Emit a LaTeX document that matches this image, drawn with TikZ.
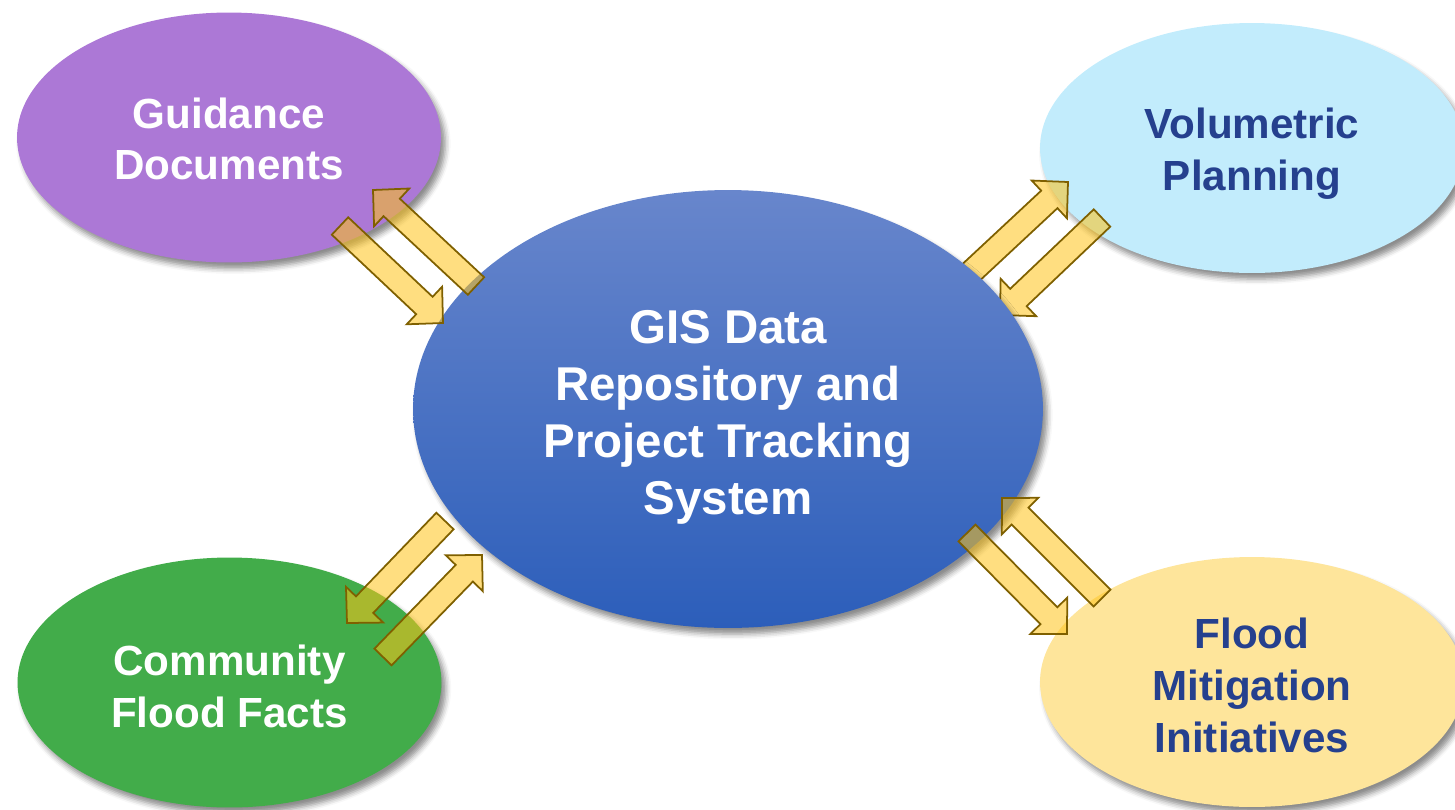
\documentclass[tikz,border=0pt]{standalone}
\usepackage{fontspec}
\setmainfont{Liberation Sans}
\usetikzlibrary{calc, shapes.geometric, shadows.blur}

\definecolor{hubtop}{RGB}{104,134,204}
\definecolor{hubbot}{RGB}{44,94,186}
\definecolor{guidefill}{RGB}{172,120,214}
\definecolor{volfill}{RGB}{194,236,252}
\definecolor{factsfill}{RGB}{66,172,74}
\definecolor{mitigfill}{RGB}{254,229,155}
\definecolor{darktext}{RGB}{37,64,142}
\definecolor{arrowfill}{RGB}{255,195,24}
\definecolor{arrowline}{RGB}{127,96,0}

\def\shaftw{6.8pt}
\def\headw{14.7pt}
\def\headl{14.4pt}
% invisible strut: a taller first line sits the text block lower in its ellipse
\newcommand{\droptext}[1]{\rule{0pt}{#1}}

\tikzstyle{softshadow} = [blur shadow={shadow xshift=2.5pt, shadow yshift=-3.5pt, shadow blur radius=3pt, shadow opacity=45}]
\tikzstyle{bubble} = [ellipse, softshadow, minimum width=8.48cm, minimum height=5cm, inner sep=0pt, align=center, font=\fontsize{24}{29.5}\selectfont\bfseries]
\tikzstyle{hub} = [ellipse, softshadow, minimum width=12.6cm, minimum height=8.76cm, inner sep=0pt, align=center, top color=hubtop, bottom color=hubbot, text=white, font=\fontsize{27}{32.5}\selectfont\bfseries]
\tikzstyle{flow} = [draw=arrowline, line width=1pt, fill=arrowfill, fill opacity=0.55, line join=miter,
  to path={let \p1=(\tikztostart), \p2=(\tikztotarget), \n1={atan2(\y2-\y1,\x2-\x1)}, \n2={veclen(\x2-\x1,\y2-\y1)-\headl} in
    ($(\p1)+(\n1+90:\shaftw)$) -- ($(\p1)+(\n1:\n2)+(\n1+90:\shaftw)$) -- ($(\p1)+(\n1:\n2)+(\n1+90:\headw)$)
    -- (\p2) -- ($(\p1)+(\n1:\n2)+(\n1-90:\headw)$) -- ($(\p1)+(\n1:\n2)+(\n1-90:\shaftw)$)
    -- ($(\p1)+(\n1-90:\shaftw)$) -- cycle}]

\begin{document}
\begin{tikzpicture}[x=0.02cm, y=-0.02cm]

  \useasboundingbox (0,0) rectangle (1455,809);

  \node[bubble, fill=guidefill, text=white] (guide) at (229,137.5) {\droptext{19pt}Guidance\\Documents};
  \node[bubble, fill=volfill, text=darktext] (volume) at (1252,148) {\droptext{24.3pt}Volumetric\\Planning};
  \node[bubble, fill=factsfill, text=white] (facts) at (229.5,682.5) {\droptext{21.8pt}Community\\Flood Facts};
  \node[bubble, fill=mitigfill, text=darktext] (mitig) at (1252,682) {\droptext{21.5pt}Flood\\Mitigation\\Initiatives};

  \coordinate (guide-in-s) at (340,226);   \coordinate (guide-in-e) at (443,323);
  \coordinate (guide-out-s) at (476,286);  \coordinate (guide-out-e) at (373,190);
  \coordinate (vol-out-s) at (965,278);    \coordinate (vol-out-e) at (1068,182);
  \coordinate (vol-in-s) at (1102,218);    \coordinate (vol-in-e) at (1000,315);
  \coordinate (facts-out-s) at (445,521);  \coordinate (facts-out-e) at (347,623);
  \coordinate (facts-in-s) at (383,657);   \coordinate (facts-in-e) at (482,555);
  \coordinate (mitig-in-s) at (1102,598);  \coordinate (mitig-in-e) at (1002,498);
  \coordinate (mitig-out-s) at (967,533);  \coordinate (mitig-out-e) at (1067,634);

  \draw[flow] (vol-out-s) to (vol-out-e);
  \draw[flow] (vol-in-s) to (vol-in-e);

  \node[hub] (repo) at (728,409) {\droptext{28pt}GIS Data\\Repository and\\Project Tracking\\System};

  \draw[flow] (guide-in-s) to (guide-in-e);
  \draw[flow] (guide-out-s) to (guide-out-e);
  \draw[flow] (facts-out-s) to (facts-out-e);
  \draw[flow] (facts-in-s) to (facts-in-e);
  \draw[flow] (mitig-in-s) to (mitig-in-e);
  \draw[flow] (mitig-out-s) to (mitig-out-e);

\end{tikzpicture}
\end{document}
